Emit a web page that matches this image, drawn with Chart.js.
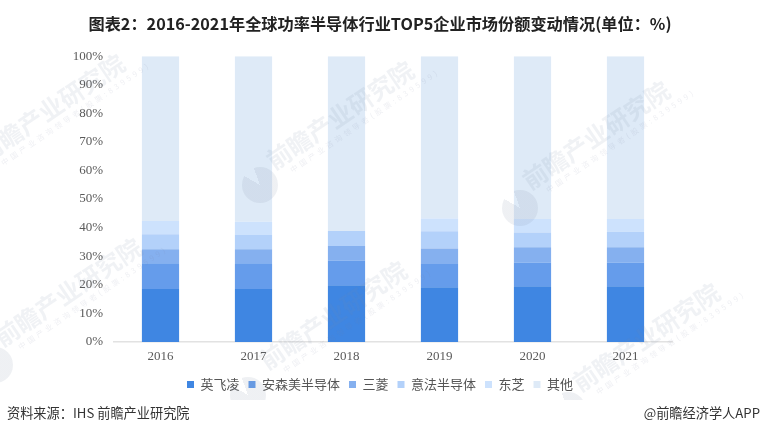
<!DOCTYPE html>
<html><head><meta charset="utf-8">
<style>
html,body{margin:0;padding:0;background:#fff;width:760px;height:439px;overflow:hidden}
#wrap{position:relative;width:760px;height:439px}
canvas{position:absolute;left:0;top:0}
.foot{position:absolute;top:405px;font:13.2px "Noto Sans CJK SC","Liberation Sans",sans-serif;color:#333;white-space:nowrap;line-height:16px}
#wms{position:absolute;left:0;top:0;width:760px;height:400px;overflow:hidden;pointer-events:none}
.wm{position:absolute;height:30px;font:bold 24.5px/30px "Noto Sans CJK SC",sans-serif;color:rgba(120,135,160,.11);transform:rotate(-34deg);transform-origin:left bottom;white-space:nowrap}
.wm span{position:absolute;left:14px;top:29px;font:normal 7.5px/10px "Noto Sans CJK SC",sans-serif;letter-spacing:3.2px;color:rgba(120,135,160,.13)}
.logo{position:absolute;width:36px;height:36px;border-radius:50%;background:conic-gradient(from 300deg,rgba(120,135,160,0) 0 40deg,rgba(120,135,160,.12) 40deg 360deg)}
</style>
<script src="https://cdn.jsdelivr.net/npm/chart.js@4"></script>
</head><body>
<div id="wrap">
<canvas id="c" width="760" height="439"></canvas>
<div class="foot" style="left:7px">资料来源：IHS 前瞻产业研究院</div>
<div class="foot" style="right:0">@前瞻经济学人APP</div>
<div id="wms">
<div class="wm" style="left:-12px;top:138px">前瞻产业研究院<span>中国产业咨询领导者(股票:839599)</span></div>
<div class="wm" style="left:277px;top:145px">前瞻产业研究院<span>中国产业咨询领导者(股票:839599)</span></div>
<div class="wm" style="left:533px;top:165px">前瞻产业研究院<span>中国产业咨询领导者(股票:839599)</span></div>
<div class="wm" style="left:5px;top:322px">前瞻产业研究院<span>中国产业咨询领导者(股票:839599)</span></div>
<div class="wm" style="left:270px;top:345px">前瞻产业研究院<span>中国产业咨询领导者(股票:839599)</span></div>
<div class="wm" style="left:583px;top:367px">前瞻产业研究院<span>中国产业咨询领导者(股票:839599)</span></div>
<div class="logo" style="left:242px;top:167px"></div>
<div class="logo" style="left:502px;top:190px"></div>
<div class="logo" style="left:-23px;top:347px"></div>
<div class="logo" style="left:230px;top:377px"></div>
<div class="logo" style="left:550px;top:392px"></div>
</div>
</div>
<script>
const years = ['2016','2017','2018','2019','2020','2021'];
const infineon = [18.5,18.5,19.8,19.1,19.5,19.5];
const onsemi = [9.0,9.0,8.7,8.2,8.3,8.3];
const mitsubishi = [4.9,4.9,5.1,5.4,5.3,5.3];
const st = [5.3,5.0,5.2,6.0,5.2,5.5];
const toshiba = [4.6,4.7,0,4.5,4.7,4.4];
const others = [57.7,57.9,61.2,56.8,57.0,57.0];
const names = ['英飞凌','安森美半导体','三菱','意法半导体','东芝','其他'];
const colors = ['#3f86e2','#659ceb','#85b0ef','#b3d1fa','#cde2fd','#deeaf7'];
const seriesValues = [infineon,onsemi,mitsubishi,st,toshiba,others];
const tickFont = {family:'"Liberation Serif",serif',size:13};
new Chart(document.getElementById('c'),{
  type:'bar',
  data:{labels:years,datasets:seriesValues.map((d,i)=>({label:names[i],data:d,backgroundColor:colors[i],borderWidth:0,categoryPercentage:0.4,barPercentage:1}))},
  options:{
    responsive:false,animation:false,
    layout:{padding:{left:0,right:0,top:0,bottom:38}},
    plugins:{
      tooltip:{enabled:false},
      title:{display:true,text:'图表2：2016-2021年全球功率半导体行业TOP5企业市场份额变动情况(单位：%)',color:'#222',
        font:{family:'"Noto Sans CJK SC",sans-serif',size:16.2,weight:'bold'},padding:{top:14,bottom:22.8},
        align:'center'},
      legend:{position:'bottom',align:'center',
        labels:{boxWidth:7,boxHeight:7,padding:9,color:'#555',font:{family:'"Noto Sans CJK SC",sans-serif',size:13}}}
    },
    scales:{
      x:{stacked:true,grid:{display:false,drawTicks:false},border:{color:'#e2e2e2',width:1.5},
        afterFit(s){s.height-=2.5},
        ticks:{color:'#595959',font:tickFont,padding:7,maxRotation:0}},
      y:{stacked:true,min:0,max:100,grid:{display:false,drawTicks:false},border:{display:false},
        afterFit(s){s.width=114},
        ticks:{stepSize:10,color:'#595959',font:tickFont,padding:11,callback:v=>v+'%'}},
      yRight:{position:'right',min:0,max:100,grid:{display:false,drawTicks:false},border:{display:false},
        afterFit(s){s.width=88},
        ticks:{display:false}}
    }
  }
});
</script>
</body></html>
